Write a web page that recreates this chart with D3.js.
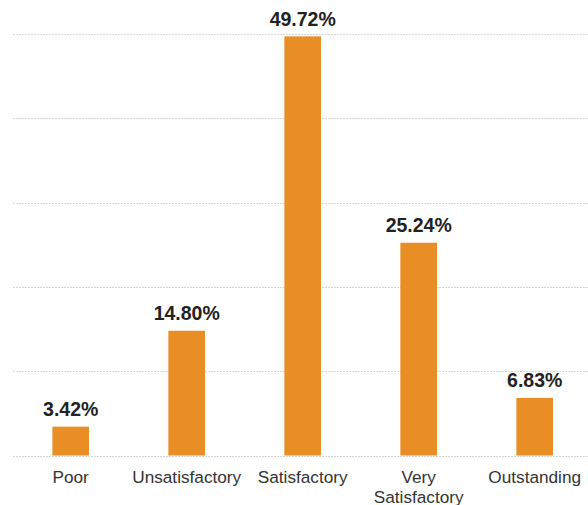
<!DOCTYPE html>
<html>
<head>
<meta charset="utf-8">
<script src="https://cdn.jsdelivr.net/npm/d3@7"></script>
<style>
  html, body { margin: 0; padding: 0; background: #fff; }
  svg { display: block; font-family: "Liberation Sans", Arial, Helvetica, sans-serif; }
</style>
</head>
<body>
<svg id="chart" width="588" height="505"></svg>
<script>
// Rating distribution (percent of responses)
const categories = ["Poor", "Unsatisfactory", "Satisfactory", "Very Satisfactory", "Outstanding"];
const values = [3.42, 14.80, 49.72, 25.24, 6.83];
const gridTicks = [0, 10, 20, 30, 40, 50];

const svg = d3.select("#chart");
const W = 588, H = 505;

const x = d3.scaleBand()
  .domain(categories)
  .range([12.7, 592.7])
  .paddingInner(0.684)
  .paddingOuter(0.342);

const y = d3.scaleLinear()
  .domain([0, 50])
  .range([455.5, 34]);

// dotted horizontal gridlines
svg.append("g")
  .selectAll("line")
  .data(gridTicks)
  .join("line")
  .attr("x1", 13)
  .attr("x2", W)
  .attr("y1", d => Math.round(y(d)) + 0.5)
  .attr("y2", d => Math.round(y(d)) + 0.5)
  .attr("stroke", "#d6d6d6")
  .attr("stroke-width", 1)
  .attr("stroke-dasharray", "2,1");

// bars
svg.append("g")
  .selectAll("rect")
  .data(values)
  .join("rect")
  .attr("x", (d, i) => x(categories[i]))
  .attr("width", x.bandwidth())
  .attr("y", d => y(d))
  .attr("height", d => y(0) - y(d))
  .attr("fill", "#e88e25");

// value labels
svg.append("g")
  .selectAll("text")
  .data(values)
  .join("text")
  .attr("x", (d, i) => x(categories[i]) + x.bandwidth() / 2)
  .attr("y", d => y(d) - 10.5)
  .attr("text-anchor", "middle")
  .attr("font-size", "19.5px")
  .attr("font-weight", "bold")
  .attr("fill", "#222")
  .text(d => d.toFixed(2) + "%");

// category labels (wrap "Very Satisfactory" onto two lines)
const xAxis = svg.append("g");
categories.forEach(c => {
  const t = xAxis.append("text")
    .attr("x", x(c) + x.bandwidth() / 2)
    .attr("y", 483)
    .attr("text-anchor", "middle")
    .attr("font-size", "17.2px")
    .attr("fill", "#333");
  const words = c === "Very Satisfactory" ? ["Very", "Satisfactory"] : [c];
  words.forEach((w, i) => {
    t.append("tspan")
      .attr("x", x(c) + x.bandwidth() / 2)
      .attr("dy", i === 0 ? 0 : 19.5)
      .text(w);
  });
});
</script>
</body>
</html>
